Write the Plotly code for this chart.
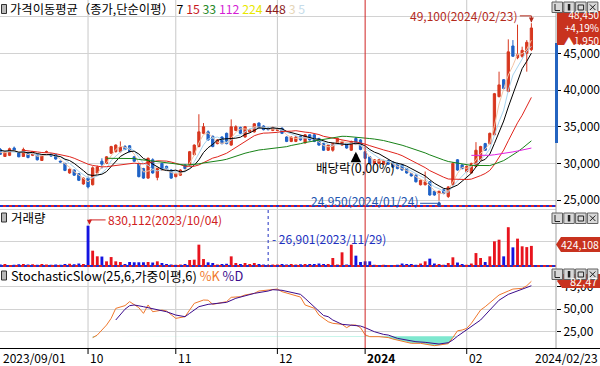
import numpy as np
import pandas as pd
import plotly.graph_objects as go

# ---------------- data ----------------
holidays = ['2023-09-28', '2023-09-29', '2023-10-02', '2023-10-03', '2023-10-09',
            '2023-12-25', '2023-12-29', '2024-01-01', '2024-02-09', '2024-02-12']
dates = [d.strftime('%Y-%m-%d') for d in pd.bdate_range('2023-09-01', '2024-02-23')
         if d.strftime('%Y-%m-%d') not in holidays]

open_ = [31900,30950,31100,32100,31450,30950,31450,31100,31200,30400,31550,31250,31200,30300,30000,28700,29100,28600,27200,28000,
         27100,28700,30300,30000,31400,31600,31600,32300,32400,30900,30000,29300,28000,30500,28100,30000,29600,29100,28200,28400,
         29800,29800,31200,32300,34100,34300,33700,32700,33600,34100,32500,34500,34900,33600,34300,34300,35500,35100,34800,34500,
         34500,34800,33600,33000,33000,33700,32800,33900,33900,33400,32700,31800,31800,32700,32500,32700,31800,33400,33200,31600,
         30900,30000,30000,29900,30400,30200,30000,29800,29300,28600,28400,27100,27100,27500,26200,25900,26400,25500,27100,30500,
         29800,28900,28700,29600,30500,32700,32700,33900,39100,41400,39800,46000,44400,44600,45000,45500]
high = [32100,31700,32150,32300,31550,32150,31600,31700,31300,31150,31750,31350,31300,30400,30100,29300,29200,28700,28100,28200,
        29600,29700,30700,31000,32400,32600,33000,32500,32500,31000,30100,29400,30800,30700,29400,30100,29700,29200,28700,29200,
        29900,31700,32600,36700,35500,34500,33800,33300,33700,34200,36000,35200,35000,35100,34700,35500,35600,35200,34900,35000,
        34700,34900,33700,33700,33700,33800,34000,34000,34000,33500,32800,32600,32800,33500,33100,32800,33100,33600,33300,31700,
        31000,30600,30600,30500,30500,30300,30100,29900,29400,28700,28500,27800,28900,27600,26300,26300,26500,26900,30200,30600,
        29900,29700,30100,32900,32400,32800,34200,39600,42500,41500,46900,46800,48900,45900,46800,49100]
low = [31150,30900,31000,31700,30850,30900,30700,31000,30400,30350,31450,30900,30500,30100,28950,28600,28300,27600,27100,26600,
       27000,28600,29300,29900,31300,31500,31500,31800,31500,30200,28100,27900,27900,28600,27700,29000,29100,27900,28100,28300,
       29200,29700,31100,32200,34000,33100,32200,32600,32600,32600,32400,34400,34000,33500,34200,34200,34700,34500,34500,34400,
       34400,34000,32900,32900,32900,33100,32700,33100,32900,32400,31700,31700,31600,32600,32400,32000,31700,32500,31800,30600,
       29900,29900,29900,29800,29800,29400,29200,29000,28600,28200,27400,27000,27000,25600,25600,24950,25800,25300,27000,29000,
       29200,28800,28600,29500,30400,31700,32600,33800,39000,40100,39700,44500,44200,44400,42500,45300]
close = [31250,31600,32000,31750,30900,31900,30800,31600,30500,31100,31600,31000,30600,30200,29050,29200,28400,27700,28000,26800,
         29400,29500,29900,30900,32300,32500,32200,31900,31600,30300,28200,28000,30700,28700,29300,29100,29200,28000,28600,29100,
         29300,31600,32500,34300,35000,33200,32300,33200,32700,32700,35000,35000,34100,35000,34600,35400,34800,34600,34600,34900,
         34600,34100,33000,33600,33600,33200,33900,33200,33000,32500,31800,32500,32700,33400,33000,32100,33000,32600,31900,30700,
         30000,30500,30500,30400,29900,29500,29300,29100,28700,28300,27500,27700,27500,25700,25700,26200,25900,26800,30000,29100,
         29300,29600,30000,31800,32300,31800,34100,39500,40700,40200,45200,44600,44800,45400,46500,48450]
# closes of the days before the visible window (needed by the moving averages)
pre_close = [32400, 32100, 31800, 32300, 31600, 31900, 32200, 31700, 31500]

volume = [50000,60000,40000,45000,55000,60000,50000,55000,45000,60000,50000,45000,50000,45000,60000,65000,55000,70000,60000,830112,
          328000,215000,210000,114000,200000,114000,100000,60000,100000,95000,95000,95000,100000,90000,114000,80000,60000,50000,45000,50000,
          60000,140000,147000,449000,160000,94000,80000,50000,60000,65000,214000,80000,60000,80000,60000,80000,60000,50000,26901,50000,
          50000,60000,50000,60000,50000,55000,60000,60000,60000,70000,60000,60000,181000,50000,295000,50000,449000,228000,100000,114000,
          114000,45000,35000,45000,35000,35000,45000,70000,60000,60000,45000,70000,114000,168000,70000,60000,45000,80000,195000,90000,
          60000,45000,70000,280000,181000,100000,214000,516000,549000,214000,800000,395000,570000,416000,400000,424108]

ma_periods = [3, 5, 7, 15, 33, 112]
ma_colors = ['#f3c4a6', '#a8d4ee', '#000000', '#e0241c', '#178217', '#e020e0']

k_day = [20,21,23,24,25,27,28,29,30,31,32,33,35,36,37,38,40,41,42,44,45,46,47,49,50,52,53,55,56,58,59,60,61,63,64,
         65,66,68,69,71,72,74,75,76,77,78,79,80,82,84,85,87,88,89,91,92,94,95,97,98,99,100,101,102,104,105,107,108,110,111,113,114,115]
k_val = [18.4,21.3,32.4,39.8,50.9,54.0,58.4,55.4,51.7,45.4,54.7,47.2,49.0,48.0,43.5,39.8,41.7,49.1,56.5,60.2,60.0,55.4,56.5,58.4,63.2,
         63.9,65.8,67.6,70.2,71.3,72.4,72.4,69.5,66.5,65.0,63.5,54.7,51.0,43.5,36.1,34.3,33.2,29.5,32.4,32.4,29.5,21.5,19.5,19.5,18.5,
         16.9,14.7,13.9,12.1,12.1,11.0,9.5,10.2,11.7,18.5,26.0,26.9,28.7,34.3,49.1,52.8,62.1,65.8,70.2,72.4,73.2,76.1,81.0]
d_day = [25,26,27,28,29,31,32,34,36,38,40,41,43,45,47,49,51,53,55,58,59,61,63,65,66,68,70,71,72,74,76,78,79,80,81,83,84,86,88,90,
         92,94,95,97,98,99,100,101,102,104,106,107,108,110,112,113,114,115]
d_val = [38.0,44.0,50.0,53.9,54.7,52.8,51.7,50.2,47.2,43.5,41.7,45.4,52.8,55.4,56.5,57.6,62.1,65.0,67.6,70.2,71.7,71.0,68.7,66.5,62.0,
         52.0,43.0,41.7,38.0,33.2,32.4,31.3,29.5,27.0,25.0,22.0,21.3,17.6,15.8,13.9,13.2,11.5,11.3,12.8,15.8,20.0,23.5,26.5,30.6,38.0,
         49.1,55.0,60.0,66.5,70.2,72.0,73.5,76.1]
oversold = 20
k_last_label = '82,47'

price_ticks = [25000, 30000, 35000, 40000, 45000, 50000]
stoch_ticks = [25, 50, 75]

# ---------------- styling ----------------
FONT = 'Noto Sans CJK KR'
UP, DN = '#d7371f', '#1f62c6'
VUP, VDN = '#e8141e', '#1414e0'
GRID = '#d2d2d2'
PW, PH = 556, 348          # plot area in pixels (left/top origin)


def px(x):
    return x / PW


def py(y):
    return (PH - y) / PH


n = len(close)
x = np.arange(n)
all_close = pd.Series(pre_close + close)

fig = go.Figure()

# candles
fig.add_trace(go.Candlestick(
    x=x, open=open_, high=high, low=low, close=close, whiskerwidth=0,
    increasing=dict(line=dict(color=UP, width=1), fillcolor=UP),
    decreasing=dict(line=dict(color=DN, width=1), fillcolor=DN),
    yaxis='y', hoverinfo='skip'))

# moving averages
for p, c in zip(ma_periods, ma_colors):
    ma = all_close.rolling(p).mean().values[len(pre_close):]
    fig.add_trace(go.Scatter(x=x, y=ma, mode='lines', line=dict(color=c, width=1),
                             yaxis='y', hoverinfo='skip'))

# volume
vcol = [VUP if c >= o else VDN for o, c in zip(open_, close)]
fig.add_trace(go.Bar(x=x, y=volume, marker=dict(color=vcol, line=dict(width=0)), width=0.62,
                     yaxis='y2', hoverinfo='skip'))

# stochastic: oversold fill, %K, %D
fig.add_trace(go.Scatter(x=k_day, y=[oversold] * len(k_day), mode='lines', line=dict(width=0),
                         yaxis='y3', hoverinfo='skip'))
fig.add_trace(go.Scatter(x=k_day, y=[min(v, oversold) for v in k_val], mode='lines', line=dict(width=0),
                         fill='tonexty', fillcolor='#7ee8cf', yaxis='y3', hoverinfo='skip'))
fig.add_trace(go.Scatter(x=k_day, y=k_val, mode='lines', line=dict(color='#f0782c', width=1),
                         yaxis='y3', hoverinfo='skip'))
fig.add_trace(go.Scatter(x=d_day, y=d_val, mode='lines', line=dict(color='#3c0c8c', width=1),
                         yaxis='y3', hoverinfo='skip'))

tickfont = dict(family=FONT, size=12, color='black')
fig.update_layout(
    width=600, height=366, margin=dict(l=0, r=44, t=0, b=18),
    paper_bgcolor='white', plot_bgcolor='white', showlegend=False,
    font=dict(family=FONT, size=12, color='black'),
    xaxis=dict(range=[-0.065, 120.33], showgrid=False, zeroline=False, showticklabels=False,
               anchor='y3', rangeslider=dict(visible=False), ticks=''),
    yaxis=dict(domain=[py(205), 1], range=[24339, 52260], side='right', tickvals=price_ticks,
               ticktext=[f'{v:,}' for v in price_ticks[:-1]] + [''], gridcolor=GRID, zeroline=False,
               ticks='outside', ticklen=4, tickcolor='black', tickfont=tickfont, anchor='x'),
    yaxis2=dict(domain=[py(267), py(207)], range=[0, 1206000], side='right',
                tickvals=[508500, 1146000], showticklabels=False, gridcolor=GRID, zeroline=False, anchor='x'),
    yaxis3=dict(domain=[0, py(267)], range=[6.9, 96.9], side='right', tickvals=stoch_ticks,
                ticktext=[f'{v},00' for v in stoch_ticks], gridcolor=GRID, zeroline=False,
                ticks='outside', ticklen=4, tickcolor='black', tickfont=tickfont, anchor='x'),
)

shapes = []
ann = []

# month boundaries
month_first = {}
for i, d in enumerate(dates):
    month_first.setdefault(d[:7], i)
month_idx = list(month_first.values())
year_idx = month_first['2024-01']
for mi in month_idx[1:]:
    if mi == year_idx:
        continue
    shapes.append(dict(type='line', xref='x', yref='paper', x0=mi, x1=mi, y0=0, y1=1,
                       line=dict(color='#c8c8c8', width=1), layer='below'))
shapes.append(dict(type='line', xref='x', yref='paper', x0=year_idx, x1=year_idx, y0=0, y1=1,
                   line=dict(color='#d02424', width=1), layer='above'))

# panel separators (red / blue dotted rows)
for yy in (206, 266):
    shapes.append(dict(type='line', xref='paper', yref='paper', x0=0, x1=1, y0=py(yy), y1=py(yy),
                       line=dict(color='#e02020', width=2)))
    shapes.append(dict(type='line', xref='paper', yref='paper', x0=0, x1=1, y0=py(yy), y1=py(yy),
                       line=dict(color='#2030d0', width=2, dash='3px,3px')))
# right axis line
shapes.append(dict(type='line', xref='paper', yref='paper', x0=1, x1=1, y0=0, y1=1,
                   line=dict(color='#a0a0a0', width=1)))
shapes.append(dict(type='rect', xref='paper', yref='paper', x0=px(555), x1=px(558), y0=py(143), y1=py(43),
                   fillcolor='#2464c0', line=dict(width=0)))
# bottom axis line and month ticks
shapes.append(dict(type='line', xref='paper', yref='paper', x0=0, x1=px(600), y0=py(348.5), y1=py(348.5),
                   line=dict(color='black', width=1)))
for mi in month_idx[1:]:
    shapes.append(dict(type='line', xref='x', yref='paper', x0=mi, x1=mi, y0=py(348.5), y1=py(354),
                       line=dict(color='black', width=1)))

# min volume dashed marker
vmin_idx = int(np.argmin(volume))
vmax_idx = int(np.argmax(volume))
shapes.append(dict(type='line', xref='x', yref='paper', x0=vmin_idx, x1=vmin_idx, y0=py(267), y1=py(209),
                   line=dict(color='#2030c0', width=1, dash='dot')))

# price tags on the right
shapes.append(dict(type='rect', xref='paper', yref='paper', x0=px(557), x1=px(600), y0=py(45), y1=py(11),
                   fillcolor='#c8321e', line=dict(width=0)))
shapes.append(dict(type='path', xref='paper', yref='paper',
                   path=f'M {px(561)} {py(237)} L {px(600)} {py(237)} L {px(600)} {py(252)} L {px(561)} {py(252)} L {px(556)} {py(244.5)} Z',
                   fillcolor='#c8321e', line=dict(width=0)))
shapes.append(dict(type='path', xref='paper', yref='paper',
                   path=f'M {px(562)} {py(274)} L {px(600)} {py(274)} L {px(600)} {py(288)} L {px(562)} {py(288)} L {px(557)} {py(281)} Z',
                   fillcolor='#c8321e', line=dict(width=0)))

# window buttons (drawn as shapes)
btn_line = dict(color='#202020', width=1)
for ytop in (2, 213, 269):
    for k in range(4):
        x0 = 552 + k * 11.8
        x1 = x0 + 10.5
        y0, y1 = ytop, ytop + 10.5
        shapes.append(dict(type='rect', xref='paper', yref='paper', x0=px(x0), x1=px(x1),
                           y0=py(y1), y1=py(y0), fillcolor='#d8d8d8', line=dict(color='#606060', width=1)))
        if k == 0:
            shapes.append(dict(type='path', xref='paper', yref='paper',
                               path=f'M {px(x0 + 3)} {py(y0 + 2)} L {px(x0 + 3)} {py(y1 - 2)} L {px(x1 - 2.5)} {py(y1 - 2)}',
                               line=btn_line))
        elif k == 1:
            shapes.append(dict(type='rect', xref='paper', yref='paper', x0=px(x0 + 4), x1=px(x0 + 6.5),
                               y0=py(y1 - 2), y1=py(y0 + 2), fillcolor='#202020', line=dict(width=0)))
        elif k == 2:
            shapes.append(dict(type='rect', xref='paper', yref='paper', x0=px(x0 + 2.5), x1=px(x1 - 2.5),
                               y0=py(y1 - 2.5), y1=py(y0 + 3), fillcolor='rgba(0,0,0,0)', line=btn_line))
        else:
            shapes.append(dict(type='path', xref='paper', yref='paper',
                               path=f'M {px(x0 + 2.5)} {py(y0 + 2.5)} L {px(x1 - 2.5)} {py(y1 - 2.5)} '
                                    f'M {px(x1 - 2.5)} {py(y0 + 2.5)} L {px(x0 + 2.5)} {py(y1 - 2.5)}',
                               line=btn_line))

# small legend icons
for yc in (8.5, 217, 275):
    shapes.append(dict(type='rect', xref='paper', yref='paper', x0=px(1.5), x1=px(6.5), y0=py(yc + 5), y1=py(yc - 4),
                       fillcolor='#b8b8b8', line=dict(color='#303030', width=1)))

# titles
lg = ('가격이동평균（종가,단순이평） '
      '<span style="color:#000000">7</span> <span style="color:#c8191e">15</span> '
      '<span style="color:#2a8a2a">33</span> <span style="color:#d41ed4">112</span> '
      '<span style="color:#e8e800">224</span> <span style="color:#8b1a1a">448</span> '
      '<span style="color:#e6d6b8">3</span> <span style="color:#c6dcea">5</span>')
ann.append(dict(xref='paper', yref='paper', x=px(8), y=py(8.5), text=lg, showarrow=False, xanchor='left',
                yanchor='middle', font=dict(family=FONT, size=12.3, color='black')))
ann.append(dict(xref='paper', yref='paper', x=px(9), y=py(217), text='거래량', showarrow=False, xanchor='left',
                yanchor='middle', font=dict(family=FONT, size=12.5, color='black')))
ann.append(dict(xref='paper', yref='paper', x=px(9), y=py(275),
                text='StochasticSlow(25,6,가중이평,6) <span style="color:#f0782c">%K</span> <span style="color:#3c0c8c">%D</span>',
                showarrow=False, xanchor='left', yanchor='middle', font=dict(family=FONT, size=12.8, color='black')))

# max / min price notes
hi_idx = int(np.argmax(high))
lo_idx = int(np.argmin(low))
hi_txt_y = high[hi_idx] + 1000
ann.append(dict(xref='x', yref='y', x=hi_idx - 2.6, y=hi_txt_y, text=f'{high[hi_idx]:,}({dates[hi_idx].replace("-", "/")})',
                showarrow=False, xanchor='right', yanchor='middle', font=dict(family=FONT, size=12, color='#b42a1c')))
shapes.append(dict(type='path', xref='x', yref='y',
                   path=f'M {hi_idx - 2.5} {hi_txt_y} L {hi_idx} {hi_txt_y} L {hi_idx} {high[hi_idx] + 150}',
                   line=dict(color='#b42a1c', width=1)))
ann.append(dict(xref='x', yref='y', x=hi_idx, y=high[hi_idx] + 100, ax=0, ay=-4, showarrow=True, arrowhead=2,
                arrowsize=1, arrowwidth=1, arrowcolor='#b42a1c', text=''))

lo_line_y = low[lo_idx] - 380
ann.append(dict(xref='x', yref='y', x=lo_idx - 4.2, y=low[lo_idx], text=f'{low[lo_idx]:,}({dates[lo_idx].replace("-", "/")})',
                showarrow=False, xanchor='right', yanchor='middle', font=dict(family=FONT, size=12, color='#2456b0')))
shapes.append(dict(type='line', xref='x', yref='y', x0=lo_idx - 4.1, x1=lo_idx + 0.4, y0=lo_line_y, y1=lo_line_y,
                   line=dict(color='#2456b0', width=1)))
ann.append(dict(xref='x', yref='y', x=lo_idx, y=low[lo_idx] - 60, ax=0, ay=4, showarrow=True, arrowhead=2,
                arrowsize=1, arrowwidth=1, arrowcolor='#2456b0', text=''))

# ex-dividend
ex_idx = dates.index('2023-12-27')
ann.append(dict(xref='x', yref='y', x=ex_idx, y=low[ex_idx] - 900, ax=0, ay=10, showarrow=True, arrowhead=2,
                arrowsize=0.7, arrowwidth=3, arrowcolor='black', text=''))
ann.append(dict(xref='x', yref='paper', x=ex_idx, y=py(167), text='배당락(0,00%)', showarrow=False,
                xanchor='center', yanchor='middle', font=dict(family=FONT, size=12.5, color='black')))

# volume notes
vtxt_y = volume[vmax_idx] * 1.14
ann.append(dict(xref='x', yref='y2', x=vmax_idx + 3.9, y=vtxt_y,
                text=f'{volume[vmax_idx]:,}({dates[vmax_idx].replace("-", "/")})', showarrow=False,
                xanchor='left', yanchor='middle', font=dict(family=FONT, size=12, color='#d02020')))
shapes.append(dict(type='line', xref='x', yref='y2', x0=vmax_idx + 3.8, x1=vmax_idx + 0.3, y0=vtxt_y, y1=vtxt_y,
                   line=dict(color='#d02020', width=1)))
ann.append(dict(xref='x', yref='y2', x=vmax_idx + 0.3, y=volume[vmax_idx] * 1.02, ax=0, ay=-5, showarrow=True,
                arrowhead=2, arrowsize=1, arrowwidth=1, arrowcolor='#d02020', text=''))
ann.append(dict(xref='x', yref='y2', x=vmin_idx + 0.5, y=580000,
                text=f'- {volume[vmin_idx]:,}({dates[vmin_idx].replace("-", "/")})', showarrow=False,
                xanchor='left', yanchor='middle', font=dict(family=FONT, size=12, color='#2030c0')))

# right tags
chg = close[-1] - close[-2]
tag_txt = (f'{close[-1]:,}<br>' + f'+{chg / close[-2] * 100:.2f}%'.replace('.', ',') + f'<br>▲{chg:,}')
ann.append(dict(xref='paper', yref='paper', x=px(600), y=py(27.5), text=tag_txt, showarrow=False, align='right',
                xanchor='right', yanchor='middle', borderpad=0, font=dict(family=FONT, size=10, color='white')))
ann.append(dict(xref='paper', yref='paper', x=px(600), y=py(244.5), text=f'{volume[-1]:,}', showarrow=False,
                xanchor='right', yanchor='middle', borderpad=0, font=dict(family=FONT, size=10.5, color='white')))
ann.append(dict(xref='paper', yref='paper', x=px(598), y=py(280.5), text=k_last_label, showarrow=False,
                xanchor='right', yanchor='middle', borderpad=0, font=dict(family=FONT, size=11, color='white')))

# date labels
ann.append(dict(xref='paper', yref='paper', x=px(0.5), y=py(357.5), text=dates[0].replace('-', '/'), showarrow=False,
                xanchor='left', yanchor='middle', font=dict(family=FONT, size=12, color='black')))
ann.append(dict(xref='paper', yref='paper', x=px(600), y=py(357.5), text=dates[-1].replace('-', '/'), showarrow=False,
                xanchor='right', yanchor='middle', font=dict(family=FONT, size=12, color='black')))
for key, mi in list(month_first.items())[1:]:
    label = '<b>2024</b>' if mi == year_idx else key[5:]
    ann.append(dict(xref='x', yref='paper', x=mi, y=py(357.5), text=label, showarrow=False,
                    xanchor='left', yanchor='middle', font=dict(family=FONT, size=12, color='black')))

fig.update_layout(shapes=shapes, annotations=ann)
fig.write_html('out.html', config={'displayModeBar': False})
